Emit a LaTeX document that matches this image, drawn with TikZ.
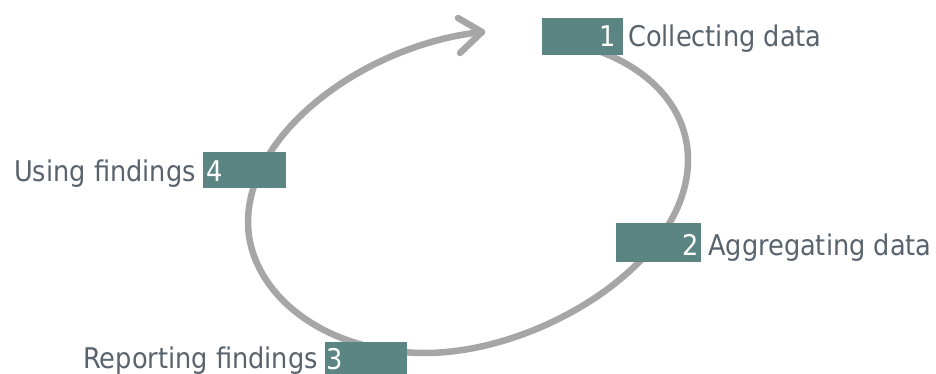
\documentclass[tikz,border=0pt]{standalone}
\usepackage{fontspec}
\setmainfont{DejaVu Sans Condensed}
\definecolor{boxc}{HTML}{5B8582}
\definecolor{txtc}{HTML}{59636D}
\definecolor{loopc}{HTML}{A6A6A6}
\begin{document}
\begin{tikzpicture}[x=1pt,y=-1pt,
  stepbox/.style={fill=boxc,draw=none,inner sep=0pt,minimum width=82pt,minimum height=37pt},
  numtext/.style={inner sep=0pt,text=white,font=\fontsize{28.5}{33}\selectfont},
  labtext/.style={inner sep=0pt,text=txtc,font=\fontsize{28.5}{33}\selectfont},
  loop/.style={draw=loopc,line width=6.5pt,line cap=round,line join=round}]
\useasboundingbox (0,0) rectangle (936,374);
% loop coordinates
\coordinate (c0) at (590,48);
\coordinate (cR) at (688,160);
\coordinate (cB) at (425,353);
\coordinate (cL) at (248,222);
\coordinate (tip) at (482,32);
\coordinate (arm1) at (458,18);
\coordinate (arm2) at (460,53);
\draw[loop] (c0) .. controls (652,68) and (688,110) .. (cR)
  .. controls (688,262) and (540,353) .. (cB)
  .. controls (320,353) and (248,290) .. (cL)
  .. controls (248,130) and (368,44) .. (tip);
\draw[loop] (arm1) -- (tip) -- (arm2);
% boxes
\node[stepbox,minimum width=81pt] (b1) at (582.5,36.5) {};
\node[stepbox,minimum width=85pt,minimum height=39pt] (b2) at (658.5,242.5) {};
\node[stepbox,minimum height=40pt] (b3) at (366,362) {};
\node[stepbox,minimum width=83pt,minimum height=36pt] (b4) at (244.5,170) {};
% numbers
\node[numtext,anchor=base east] (n1) at (616,47) {1};
\node[numtext,anchor=base east] (n2) at (699,255) {2};
\node[numtext,anchor=base west] (n3) at (326,369) {3};
\node[numtext,anchor=base west] (n4) at (206,182) {4};
% labels
\node[labtext,anchor=base west] (l1) at (628,47) {Collecting data};
\node[labtext,anchor=base west] (l2) at (708,255) {Aggregating data};
\node[labtext,anchor=base east] (l3) at (318,368) {Reporting findings};
\node[labtext,anchor=base east] (l4) at (196,182) {Using findings};
\end{tikzpicture}
\end{document}
